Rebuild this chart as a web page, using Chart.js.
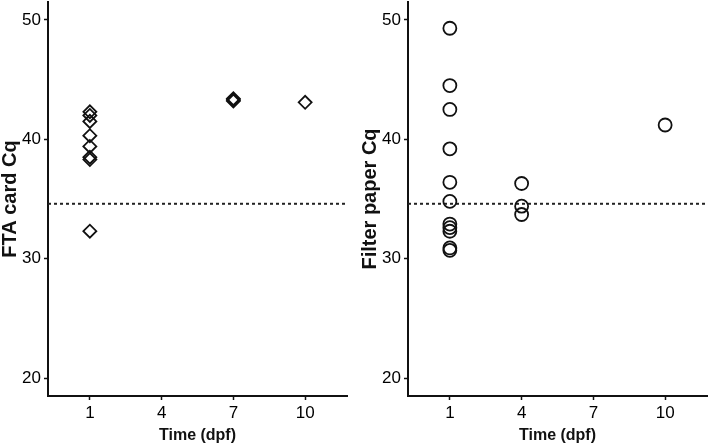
<!DOCTYPE html>
<html>
<head>
<meta charset="utf-8">
<script src="https://cdn.jsdelivr.net/npm/chart.js@4.4.1/dist/chart.umd.min.js"></script>
<style>
  body { margin: 0; background: #fff; }
  canvas { position: absolute; top: 0; }
</style>
</head>
<body>
<canvas id="fta" width="360" height="448" style="left:0"></canvas>
<canvas id="filter" width="349" height="448" style="left:360px"></canvas>
<script>
// tick labels
var xTicks = [1, 4, 7, 10];
var yTicks = [20, 30, 40, 50];
var cutoff = 34.6;

// FTA card Cq values per time point (dpf)
var ftaDays = [1, 1, 1, 1, 1, 1, 1, 1, 7, 7, 7, 10];
var ftaCq = [42.3, 42.0, 41.5, 40.3, 39.4, 38.5, 38.3, 32.3, 43.4, 43.2, 43.3, 43.1];

// Filter paper Cq values per time point (dpf)
var filterDays = [1, 1, 1, 1, 1, 1, 1, 1, 1, 1, 1, 4, 4, 4, 10];
var filterCq = [49.3, 44.5, 42.5, 39.2, 36.4, 34.8, 32.9, 32.6, 32.3, 30.9, 30.7, 36.3, 34.4, 33.7, 41.2];

function points(xs, ys) {
    return xs.map(function (x, i) { return { x: x, y: ys[i] }; });
}

function makeChart(id, xs, ys, style, radius, yTitle, rightPad) {
    var ctx = document.getElementById(id).getContext('2d');
    return new Chart(ctx, {
        type: 'scatter',
        data: {
            datasets: [{
                data: points(xs, ys),
                pointStyle: style,
                pointRadius: radius,
                pointBorderWidth: 1.8,
                pointBorderColor: '#111',
                pointBackgroundColor: 'rgba(255,255,255,0)'
            }, {
                // cut-off line across the whole panel
                type: 'line',
                data: [{ x: -0.75, y: cutoff }, { x: 11.75, y: cutoff }],
                borderColor: '#222',
                borderWidth: 2,
                borderDash: [3, 3],
                pointRadius: 0
            }]
        },
        options: {
            responsive: false,
            animation: false,
            layout: { autoPadding: false, padding: { top: 2, right: rightPad, left: 0, bottom: 0 } },
            plugins: { legend: { display: false }, tooltip: { enabled: false } },
            scales: {
                x: {
                    type: 'linear',
                    min: -0.75,
                    max: 11.75,
                    afterBuildTicks: function (s) { s.ticks = xTicks.map(function (v) { return { value: v }; }); },
                    afterFit: function (s) { s.height = 52; s.paddingLeft = 0; s.paddingRight = 0; },
                    grid: { drawOnChartArea: false, tickLength: 4, tickColor: '#111', tickWidth: 1.5 },
                    border: { color: '#111', width: 2 },
                    ticks: { color: '#000', padding: 3, font: { family: 'Liberation Sans, Arial', size: 17 } },
                    title: { display: true, text: 'Time (dpf)', color: '#111', padding: { top: 0, bottom: 3 },
                             font: { family: 'Liberation Sans, Arial', size: 16, weight: 'bold' } }
                },
                y: {
                    min: 18.5,
                    max: 51.5,
                    afterBuildTicks: function (s) { s.ticks = yTicks.map(function (v) { return { value: v }; }); },
                    afterFit: function (s) { s.width = 48; s.paddingTop = 0; s.paddingBottom = 0; },
                    grid: { drawOnChartArea: false, tickLength: 4, tickColor: '#111', tickWidth: 1.5 },
                    border: { color: '#111', width: 2 },
                    ticks: { color: '#000', padding: 3, font: { family: 'Liberation Sans, Arial', size: 17 } },
                    title: { display: true, text: yTitle, color: '#111', padding: { top: 0, bottom: 0 },
                             font: { family: 'Liberation Sans, Arial', size: 20, weight: 'bold', lineHeight: 1.0 } }
                }
            }
        }
    });
}

makeChart('fta', ftaDays, ftaCq, 'rectRot', 6.5, 'FTA card Cq', 13);
makeChart('filter', filterDays, filterCq, 'circle', 6.5, 'Filter paper Cq', 2);
</script>
</body>
</html>
